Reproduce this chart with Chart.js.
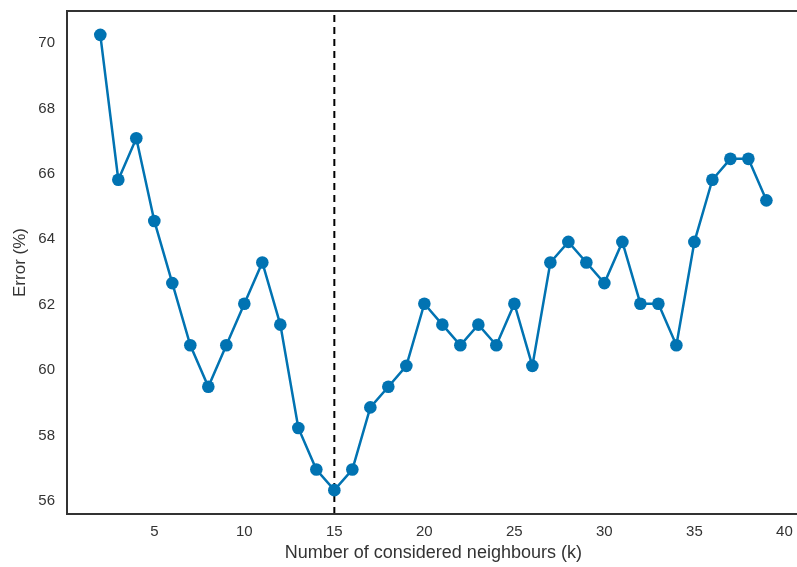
<!DOCTYPE html>
<html lang="en">
<head>
<meta charset="UTF-8">
<title>Error vs k</title>
<script src="https://cdn.jsdelivr.net/npm/chart.js"></script>
<style>
  html, body { margin: 0; padding: 0; background: #fff; overflow: hidden; }
  #wrap { width: 806px; height: 577px; margin-top: -10px; }
</style>
</head>
<body>
<div id="wrap"><canvas id="myChart"></canvas></div>
<script>
// neighbours considered
const kValues = [2,3,4,5,6,7,8,9,10,11,12,13,14,15,16,17,18,19,20,21,22,23,24,25,26,27,28,29,30,31,32,33,34,35,36,37,38,39];
// error in percent
const errorValues = [70.25,65.82,67.09,64.56,62.66,60.76,59.49,60.76,62.03,63.29,61.39,58.23,56.96,56.33,56.96,58.86,59.49,60.13,62.03,61.39,60.76,61.39,60.76,62.03,60.13,63.29,63.92,63.29,62.66,63.92,62.03,62.03,60.76,63.92,65.82,66.46,66.46,65.19];
const bestK = 15;
const xTicks = [5,10,15,20,25,30,35,40];
const yTicks = [56,58,60,62,64,66,68,70];
const xRange = [0.15, 40.85];
const yRange = [55.6, 70.98];

const lineColor = '#0173b2';
const spineColor = '#333333';

const framePlugin = {
    id: 'frame',
    afterDraw(chart) {
        const a = chart.chartArea;
        const c = chart.ctx;
        c.save();
        c.strokeStyle = spineColor;
        c.lineWidth = 2;
        c.beginPath();
        c.moveTo(a.right + 5, a.top);
        c.lineTo(a.left, a.top);
        c.lineTo(a.left, a.bottom);
        c.lineTo(a.right + 5, a.bottom);
        c.stroke();
        c.restore();
    }
};

const ctx = document.getElementById('myChart').getContext('2d');
new Chart(ctx, {
    type: 'line',
    data: {
        datasets: [{
            label: 'Error',
            data: kValues.map((k, i) => ({ x: k, y: errorValues[i] })),
            borderColor: lineColor,
            backgroundColor: lineColor,
            borderWidth: 2.5,
            pointRadius: 6.3,
            pointBorderWidth: 0,
            pointBackgroundColor: lineColor,
            tension: 0,
            order: 1
        }, {
            label: 'Best k',
            data: [{ x: bestK, y: yRange[0] }, { x: bestK, y: yRange[1] }],
            borderColor: '#000',
            borderWidth: 2,
            borderDash: [7, 5],
            pointRadius: 0,
            order: 2
        }]
    },
    options: {
        responsive: true,
        maintainAspectRatio: false,
        animation: false,
        layout: { padding: 0 },
        plugins: {
            legend: { display: false },
            tooltip: { enabled: false }
        },
        scales: {
            x: {
                type: 'linear',
                min: xRange[0],
                max: xRange[1],
                grid: { display: false, drawTicks: false },
                border: { display: false },
                afterBuildTicks: s => { s.ticks = xTicks.map(v => ({ value: v })); },
                afterFit: s => { s.height = 53; },
                ticks: {
                    padding: 9,
                    color: '#333',
                    font: { family: 'Liberation Sans, Arial, sans-serif', size: 15 }
                },
                title: {
                    display: true,
                    text: 'Number of considered neighbours (k)',
                    color: '#333',
                    padding: { top: 0, bottom: 3 },
                    font: { family: 'Liberation Sans, Arial, sans-serif', size: 18 }
                }
            },
            y: {
                min: yRange[0],
                max: yRange[1],
                grid: { display: false, drawTicks: false },
                border: { display: false },
                afterBuildTicks: s => { s.ticks = yTicks.map(v => ({ value: v })); },
                afterFit: s => { s.width = 67; },
                ticks: {
                    padding: 12,
                    color: '#333',
                    font: { family: 'Liberation Sans, Arial, sans-serif', size: 15 }
                },
                title: {
                    display: true,
                    text: 'Error (%)',
                    color: '#333',
                    padding: { top: 10, bottom: 0 },
                    font: { family: 'Liberation Sans, Arial, sans-serif', size: 17 }
                }
            }
        }
    },
    plugins: [framePlugin]
});
</script>
</body>
</html>
